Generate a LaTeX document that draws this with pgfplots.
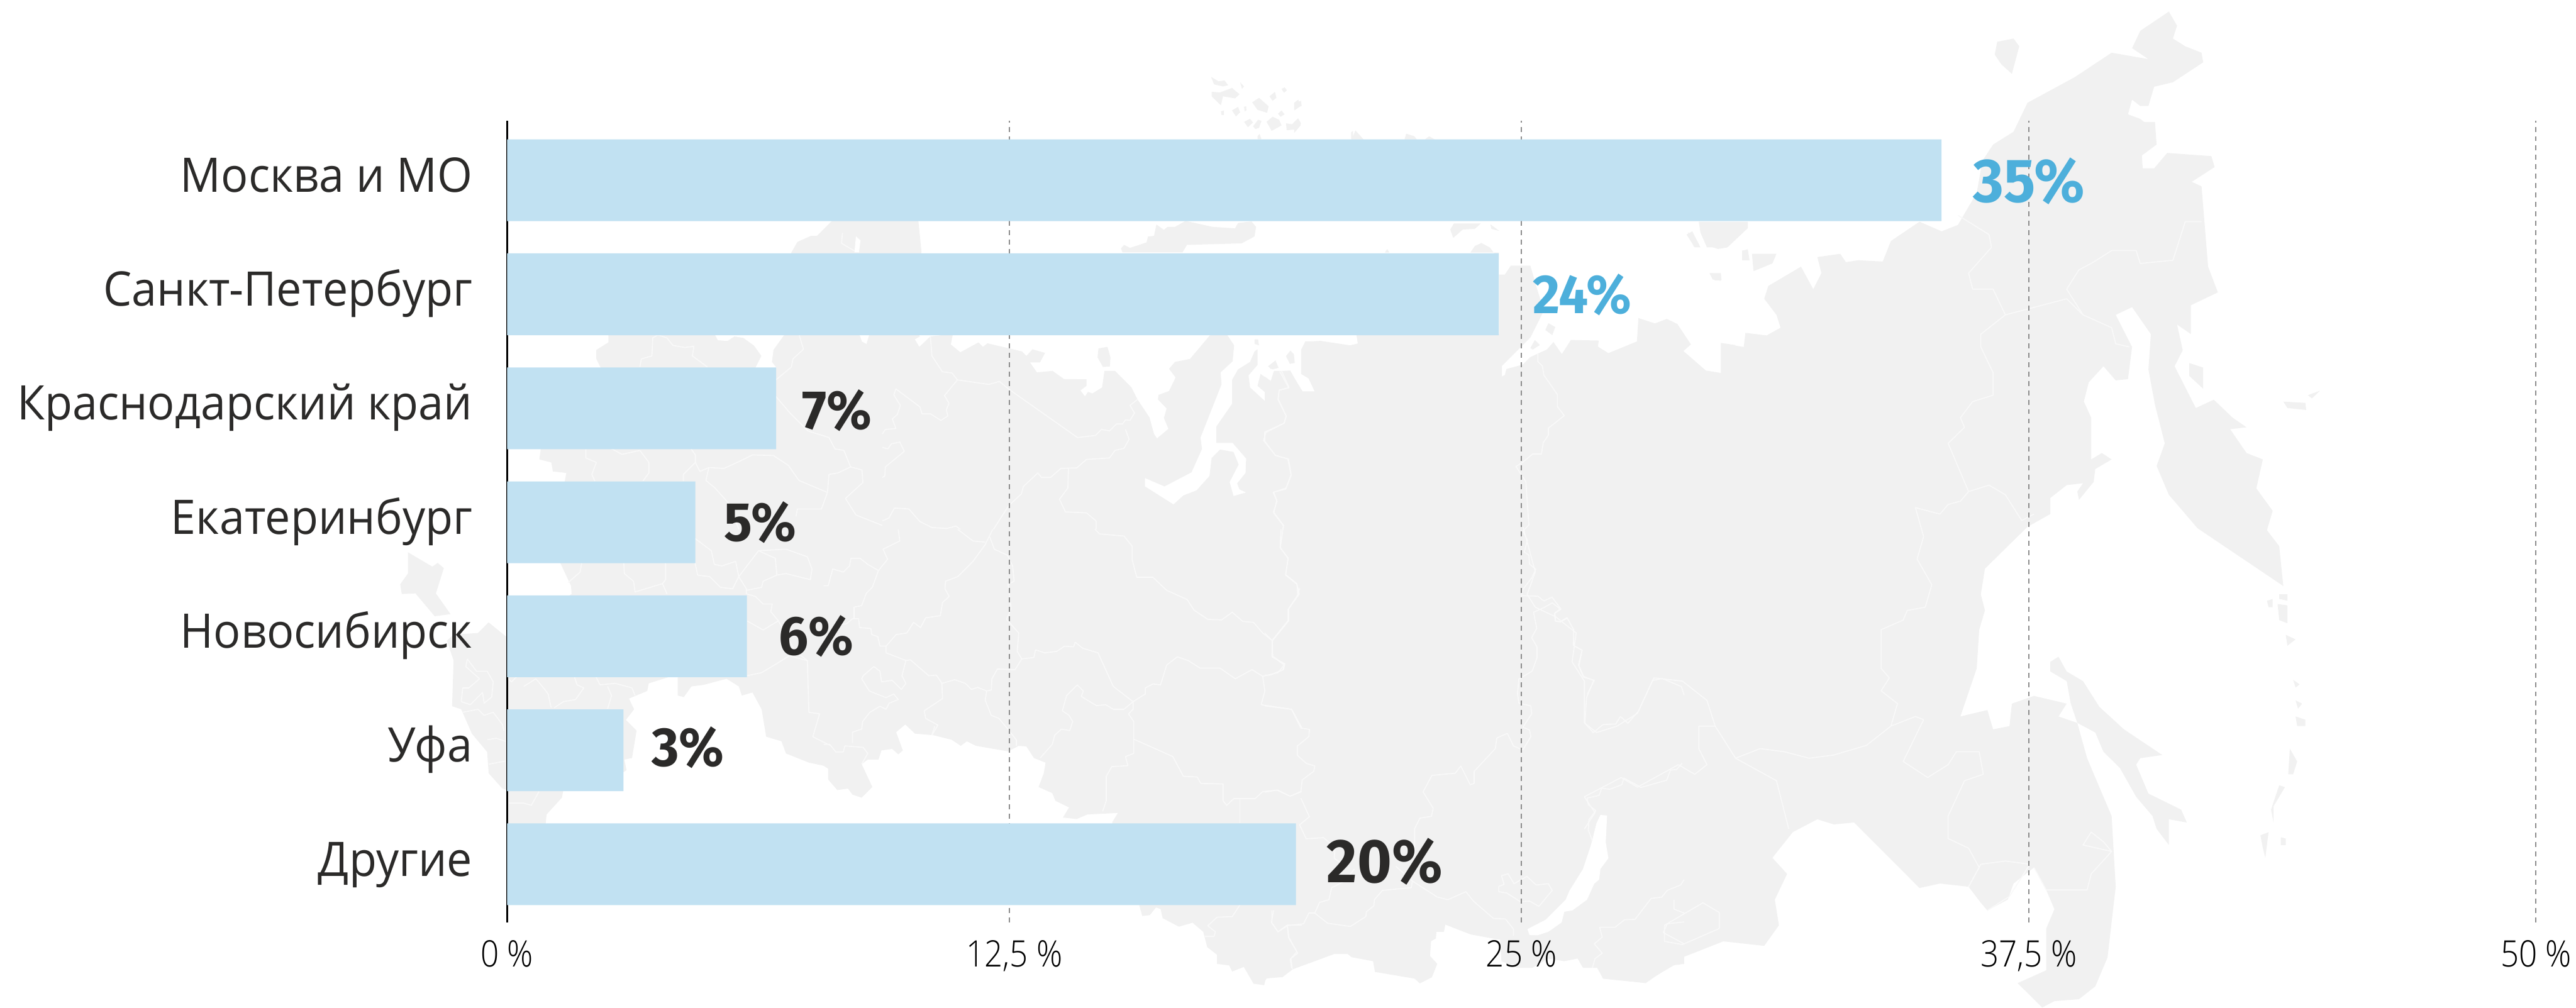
\documentclass[border=0pt]{standalone}
\usepackage{pgfplots}
\pgfplotsset{compat=1.18}
\usepackage{fontspec}
\setmainfont{Open Sans}
\newfontfamily\labf[FakeStretch=0.948]{Open Sans}
\newfontfamily\tickf[FakeStretch=0.88]{Open Sans Light}
\newfontfamily\valfam[FakeStretch=0.955]{Fira Sans}
\newcommand{\valf}{\valfam\bfseries}
\definecolor{mapc}{HTML}{F1F1F1}
\definecolor{bordc}{HTML}{F9F9F9}
\definecolor{barc}{HTML}{C1E1F2}
\definecolor{txtc}{HTML}{2B2A29}
\definecolor{bluec}{HTML}{4DAFDB}
\definecolor{gridc}{HTML}{8C8C8C}
\tikzset{Z/.style n args={4}{shift={(#1*0.2pt,{(1713-#2)*0.2pt})},x={#3*0.2pt},y={-#4*0.2pt}},
 bl/.style={draw=bordc,line width=0.35pt,line join=round}}
\newcommand{\terra}[1]{\fill[mapc] plot coordinates {#1} -- cycle;}
\newcommand{\wat}[1]{\fill[white] plot coordinates {#1} -- cycle;}
\newcommand{\bord}[1]{\draw[bl] plot coordinates {#1};}
\pgfplotstableread{
y val
6 35.35
5 24.44
4 6.63
3 4.64
2 5.91
1 2.87
0 19.44
}\shares
\begin{document}
\begin{tikzpicture}
\useasboundingbox (0,0) rectangle (875.8pt,342.6pt);
% ---------- background map: land
\begin{scope}[Z={700}{100}{.5102}{.5102}]
\terra{(1400,540) (1350,590) (1330,590) (1285,610) (1265,645) (1200,800) (655,800) (655,945) (615,970) (615,1000) (630,1030) (620,1100) (430,1299) (425,1335) (465,1345) (470,1375) (515,1380) (510,1407) (510,1568) (1568,1568) (1568,540)}
\end{scope}
\begin{scope}[Z={1500}{100}{.5102}{.5102}]
\terra{(1568,953) (1560,955) (1460,940) (1410,943) (1395,970) (1395,1050) (1420,1065) (1440,1108) (1400,1108) (1358,1040) (1305,1040) (1295,1075) (1260,1050) (1250,1090) (1285,1120) (1285,1150) (1225,1095) (1220,1055) (1250,1020) (1250,968) (1240,975) (1225,1010) (1185,1035) (1165,1070) (1165,1150) (1113,1225) (1113,1280) (1167,1280) (1212,1332) (1210,1380) (1182,1415) (1190,1435) (1212,1445) (1170,1457) (1157,1410) (1187,1352) (1170,1310) (1125,1302) (1097,1330) (1090,1390) (1047,1438) (1003,1455) (970,1485) (875,1425) (875,1397) (940,1425) (1030,1378) (1065,1300) (1060,1262) (1130,1085) (1127,1045) (1167,1008) (1172,955) (1147,917) (1095,917) (1025,1000) (975,1010) (955,1033) (977,1062) (955,1107) (920,1120) (918,1135) (947,1165) (938,1197) (953,1233) (915,1265) (905,1250) (890,1195) (850,1135) (830,1095) (775,1040) (740,1040) (732,1095) (700,1115) (685,1110) (675,1125) (660,1105) (680,1090) (680,1068) (605,1067) (567,1040) (515,1045) (492,1012) (525,1012) (542,980) (500,968) (480,990) (465,975) (350,948) (335,960) (320,945) (260,978) (228,952) (235,917) (160,925) (123,960) (108,935) (125,925) (120,917) (130,640) (120,540) (0,540) (0,1568) (1568,1568)}
\terra{(795,632) (805,620) (825,630) (880,612) (885,592) (905,590) (913,552) (938,570) (950,560) (975,560) (1010,540) (1100,560) (1175,565) (1185,547) (1230,542) (1245,560) (1240,592) (1197,615) (1015,620) (1000,645) (800,645)}
\terra{(720,965) (750,960) (760,995) (758,1025) (735,1027) (717,995)}
\terra{(1240,935) (1252,935) (1255,955) (1240,950)}
\terra{(1345,990) (1360,972) (1370,985) (1372,1010) (1358,1017)}
\terra{(1285,1025) (1310,1005) (1320,1030) (1300,1035)}
% Franz Josef Land
\terra{(1095,60) (1120,75) (1140,72) (1152,88) (1135,92) (1105,85)}
\terra{(1097,110) (1125,112) (1165,97) (1190,118) (1175,132) (1135,125) (1128,155) (1097,125)}
\terra{(1192,78) (1205,92) (1198,100)}
\terra{(1290,125) (1308,110) (1313,130) (1300,140)}
\terra{(1330,100) (1340,95) (1348,105) (1338,113)}
\terra{(1232,145) (1255,130) (1287,158) (1282,180) (1250,170)}
\terra{(1165,172) (1185,160) (1192,178) (1178,192)}
\terra{(1205,160) (1212,158) (1213,172) (1207,175)}
\terra{(1128,175) (1138,172) (1138,187) (1130,187)}
\terra{(1380,145) (1395,140) (1397,157) (1385,160)}
\terra{(1318,183) (1330,172) (1340,185) (1327,193)}
\terra{(1205,210) (1225,200) (1235,212) (1218,228)}
\terra{(1235,225) (1252,203) (1263,207) (1255,230) (1243,234)}
\terra{(1280,210) (1300,193) (1322,203) (1330,222) (1297,240)}
\terra{(1345,215) (1365,218) (1385,198) (1395,215) (1380,235) (1347,238)}
\terra{(1250,258) (1257,250) (1263,268) (1250,268)}
\terra{(1562,268) (1562,245) (1568,240) (1568,268)}
\end{scope}
\begin{scope}[Z={600}{900}{.5185}{.5185}]
\terra{(675,100) (1000,100) (1000,480) (1050,480) (970,505) (965,530) (905,555) (922,590) (895,625) (930,660) (915,750) (890,755) (897,790) (880,800) (880,856) (690,856) (685,880) (635,935) (632,964) (632,1100) (510,1100) (510,856) (490,850) (445,800) (440,730) (390,670) (355,590) (325,580) (330,430) (308,365) (330,345) (410,340) (445,305) (500,350) (510,350) (717,212) (715,185)}
\terra{(1065,480) (1065,545) (1085,550) (1110,515) (1150,510) (1225,490) (1265,515) (1275,545) (1310,535) (1340,590) (1355,680) (1405,695) (1420,735) (1495,765) (1543,775) (1568,785) (1568,0) (1000,0) (1000,480)}
\terra{(180,75) (260,122) (278,110) (298,127) (272,210) (320,278) (268,285) (205,210) (160,212) (155,180) (180,145)}
\end{scope}
\begin{scope}[Z={1400}{900}{.5185}{.5185}]
\terra{(0,775) (15,785) (15,820) (45,855) (80,850) (95,870) (125,880) (160,845) (125,770) (145,755) (180,755) (190,725) (225,720) (245,738) (260,725) (238,665) (268,640) (300,670) (360,675) (420,690) (450,710) (470,695) (500,710) (605,728) (640,710) (665,712) (690,750) (728,765) (722,800) (705,845) (750,865) (760,890) (805,912) (785,945) (830,950) (865,935) (965,930) (947,960) (947,1100) (1035,1100) (1035,1232) (1045,1268) (1070,1265) (1090,1240) (1105,1245) (1112,1275) (1165,1303) (1210,1290) (1245,1320) (1258,1370) (1290,1395) (1290,1425) (1330,1430) (1340,1450) (1378,1435) (1410,1490) (1445,1495) (1450,1473) (1505,1468) (1540,1440) (1568,1430) (1568,0) (0,0)}
\end{scope}
\begin{scope}[Z={2150}{380}{.5102}{.5102}]
\terra{(1568,405) (1520,398) (1520,498) (1470,490) (1395,425) (1420,403) (1375,335) (1340,318) (1300,333) (1245,315) (1240,393) (1145,432) (1110,410) (1113,390) (1020,388) (990,435) (962,395) (940,420) (885,445) (860,470) (805,485) (800,505) (790,510) (790,475) (855,410) (885,380) (920,310) (930,290) (905,210) (885,140) (820,140) (800,170) (780,170) (780,368) (305,368) (310,400) (275,408) (190,393) (135,393) (122,420) (122,495) (150,520) (168,562) (125,562) (85,490) (30,493) (20,525) (0,510) (0,1568) (1568,1568)}
\terra{(935,355) (945,332) (968,345) (958,372)}
\terra{(885,415) (900,388) (917,405) (893,420)}
\terra{(72,445) (85,425) (97,435) (100,465) (85,467)}
\terra{(12,475) (35,458) (45,480) (20,485)}
\terra{(630,0) (618,20) (628,48) (660,20) (700,18) (720,0)}
\terra{(752,3) (782,25) (755,18)}
\terra{(685,97) (700,75) (722,65) (750,80) (780,120) (780,97)}
\terra{(400,97) (408,85) (415,97)}
\terra{(1410,30) (1430,40) (1447,70) (1430,78)}
\terra{(1450,0) (1460,40) (1480,75) (1510,85) (1540,80) (1540,50) (1568,45) (1568,0)}
\terra{(1485,165) (1520,170) (1522,188) (1500,190)}
\end{scope}
\begin{scope}[Z={2150}{1000}{.4547}{.4547}]
\terra{(0,1470) (10,1455) (65,1455) (105,1425) (260,1368) (310,1368) (325,1380) (405,1395) (412,1435) (560,1460) (580,1478) (625,1455) (645,1405) (618,1375) (622,1320) (640,1310) (642,1285) (670,1285) (675,1258) (770,1295) (880,1315) (885,1395) (945,1420) (1000,1420) (1060,1385) (1120,1395) (1170,1385) (1190,1420) (1245,1420) (1265,1460) (1420,1475) (1530,1410) (1568,1405) (1568,0) (0,0)}
\end{scope}
\begin{scope}[Z={2200}{0}{1.3897}{1.0925}]
\terra{(522,534) (550,540) (552,518) (578,522) (595,510) (590,490) (575,465) (580,445) (620,415) (635,450) (645,425) (640,400) (668,395) (675,408) (690,405) (720,407) (730,375) (765,345) (792,360) (812,350) (835,300) (842,250) (855,225) (880,205) (897,160) (955,120) (1000,82) (1045,92) (1025,75) (1035,48) (1070,18) (1080,40) (1075,60) (1090,72) (1110,82) (1112,97) (1075,128) (1052,135) (1045,165) (1035,165) (1025,155) (1020,178) (1035,185) (1040,190) (1053,190) (1055,225) (1037,242) (1038,262) (1052,262) (1068,238) (1122,243) (1126,260) (1098,283) (1110,290) (1118,415) (1130,455) (1097,475) (1097,520) (1080,505) (1087,545) (1077,570) (1103,635) (1125,622) (1148,650) (1165,665) (1145,668) (1165,705) (1185,715) (1177,760) (1197,795) (1190,825) (1205,850) (1210,912) (1105,822) (1070,770) (1055,725) (1065,690) (1053,630) (1045,575) (1048,520) (1025,478) (1005,490) (1025,540) (1020,590) (1005,592) (990,570) (972,595) (966,625) (975,650) (975,715) (988,705) (1000,715) (980,730) (978,750) (960,778) (958,765) (965,752) (945,755) (925,775) (925,800) (897,820) (885,835) (845,885) (840,925) (845,950) (838,980) (835,1040) (815,1115) (848,1105) (855,1135) (875,1130) (878,1095) (905,1083) (945,1095) (935,1115) (958,1125) (970,1180) (1000,1270) (1005,1380) (995,1490) (980,1535) (960,1555) (930,1558) (915,1568) (885,1530) (920,1510) (920,1445) (930,1415) (920,1385) (905,1350) (880,1375) (873,1400) (848,1417) (840,1405) (825,1380) (790,1375) (765,1382) (685,1280) (660,1283) (640,1275) (610,1295) (585,1335) (603,1360) (588,1400) (593,1440) (575,1472) (525,1465) (475,1490) (430,1530) (378,1523) (371,1507) (371,1000) (522,700)}
% Sakhalin, Wrangel, islands
\terra{(925,1030) (935,1022) (945,1045) (965,1060) (985,1100) (1015,1135) (1062,1175) (1035,1180) (1030,1190) (1045,1235) (1085,1260) (1092,1280) (1070,1275) (1070,1315) (1055,1290) (1050,1270) (1030,1240) (1010,1195) (990,1170) (980,1140) (958,1125) (950,1095) (945,1060) (925,1045)}
\terra{(857,85) (860,65) (880,60) (887,72) (878,115) (865,100)}
\terra{(495,345) (555,345) (555,355) (530,385) (505,385) (497,362)}
\terra{(480,365) (487,360) (497,385) (490,385)}
\terra{(548,390) (555,388) (557,405) (548,405)}
\terra{(560,395) (590,395) (585,410) (562,422)}
\terra{(508,425) (522,425) (522,437) (512,435)}
\terra{(70,217) (75,203) (85,217)}
\terra{(135,217) (137,208) (147,212) (150,217)}
\terra{(160,217) (165,212) (172,217)}
\terra{(0,160) (5,155) (8,165) (0,172)}
\terra{(0,190) (5,185) (8,195) (0,207)}
\terra{(1095,565) (1112,572) (1112,605) (1095,585)}
\terra{(1210,625) (1237,627) (1238,638) (1215,635)}
\terra{(1240,615) (1255,608) (1245,620)}
\terra{(1190,935) (1197,932) (1197,945) (1192,945)}
\terra{(1205,925) (1215,925) (1215,935) (1205,932)}
\terra{(1203,940) (1215,942) (1215,970) (1205,965)}
\terra{(1213,988) (1225,995) (1215,1005)}
\terra{(1222,1058) (1230,1065) (1225,1070)}
\terra{(1225,1090) (1233,1095) (1228,1103)}
\terra{(1225,1115) (1237,1120) (1237,1130) (1227,1130)}
\terra{(1218,1165) (1227,1185) (1222,1205) (1216,1205)}
\terra{(1205,1222) (1212,1225) (1198,1255) (1198,1280) (1195,1260)}
\terra{(1182,1300) (1192,1295) (1188,1335) (1185,1320)}
\terra{(1207,1303) (1213,1305) (1213,1315) (1207,1315)}
\end{scope}
% ---------- background map: inland water
\begin{scope}[Z={700}{100}{.5102}{.5102}]
\wat{(1000,900) (1020,938) (1052,940) (1075,925) (1105,930) (1140,955) (1165,990) (1145,1030) (1215,1030) (1200,1010) (1205,970) (1255,900)}
\wat{(1475,645) (1480,592) (1495,605) (1490,645)}
\wat{(1485,900) (1500,942) (1515,950) (1530,900)}
\end{scope}
\begin{scope}[Z={2150}{1000}{.4547}{.4547}]
\wat{(1255,848) (1280,850) (1275,950) (1285,1010) (1255,1050) (1250,1090) (1232,1105) (1205,1165) (1150,1205) (1120,1210) (1110,1250) (1060,1285) (1020,1298) (990,1297) (982,1275) (1050,1240) (1100,1190) (1125,1165) (1140,1130) (1190,1050) (1220,960) (1240,880)}
\end{scope}
% ---------- background map: inner borders
\begin{scope}[Z={700}{100}{.5102}{.5102}]
\bord{(760,1027) (765,1000) (800,990) (803,930) (820,920) (850,930) (870,955) (910,962) (940,958) (935,990) (985,1027)}
\bord{(1290,917) (1305,968) (1270,1000) (1265,1027) (1213,1070)}
\bord{(1213,1125) (1260,1180) (1320,1240) (1390,1262) (1410,1300) (1440,1305) (1462,1360) (1500,1370) (1503,1412) (1445,1465) (1480,1520) (1568,1555)}
\bord{(1462,1360) (1420,1380) (1390,1385) (1385,1445) (1365,1500) (1285,1500) (1280,1525)}
\bord{(930,1299) (945,1320) (945,1345) (905,1385) (905,1407)}
\bord{(945,1345) (960,1375) (990,1362) (1040,1365) (1095,1340) (1135,1320) (1205,1322) (1255,1355) (1290,1405) (1385,1445)}
\bord{(990,1362) (980,1405) (1010,1430) (1055,1480) (1090,1568)}
\bord{(580,1299) (580,1330) (615,1345) (600,1385) (610,1407)}
\bord{(665,1299) (700,1318) (760,1305) (790,1345) (790,1380) (770,1407)}
\bord{(1435,580) (1432,615) (1475,640)}
\end{scope}
\begin{scope}[Z={1500}{100}{.5102}{.5102}]
\bord{(160,925) (165,990) (200,1043) (232,1047) (250,1070) (355,1085) (390,1075) (420,1100) (650,1262) (710,1255) (730,1235) (757,1240) (780,1217) (800,1217) (810,1203) (825,1205) (840,1180) (825,1155) (850,1135)}
\bord{(250,1070) (207,1122) (222,1148) (213,1170) (218,1190) (195,1205) (160,1183) (132,1183) (125,1160) (45,1100) (38,1120) (60,1155) (50,1185) (33,1200) (45,1232) (10,1235) (0,1250)}
\bord{(810,1235) (822,1268) (805,1298) (775,1305) (757,1330) (680,1335) (648,1363) (595,1365) (560,1395) (530,1395) (518,1380) (470,1425) (463,1450) (420,1490) (370,1568)}
\bord{(620,1365) (618,1430) (590,1468) (610,1510) (680,1513) (712,1540) (712,1568)}
\bord{(0,1295) (18,1300) (30,1283) (58,1277) (73,1308) (10,1360) (8,1390) (0,1395)}
\bord{(0,1540) (22,1530) (40,1497) (88,1500) (125,1542) (165,1562) (215,1565) (245,1557) (260,1568)}
\bord{(1330,1040) (1355,1095) (1322,1105) (1318,1135) (1345,1190) (1338,1215) (1278,1245) (1270,1272) (1310,1322) (1353,1333) (1362,1385) (1345,1430) (1302,1445) (1315,1475) (1303,1510) (1337,1555) (1335,1568)}
\end{scope}
\begin{scope}[Z={2150}{380}{.5102}{.5102}]
\bord{(910,435) (910,460) (925,475) (930,505) (975,570) (975,610) (998,640) (945,682) (945,705) (928,730) (922,768) (893,768) (860,795) (837,810) (870,860) (880,1005) (860,1025) (875,1055) (865,1095) (880,1105) (882,1135) (903,1152) (890,1180) (860,1220) (855,1240) (910,1242) (930,1258) (957,1245) (987,1285) (965,1300) (968,1325) (985,1328) (1008,1315) (1030,1355) (1028,1405) (1057,1422) (1045,1472) (1062,1512) (1098,1522) (1075,1568)}
\bord{(50,493) (80,548) (48,555) (45,585) (72,642) (65,665) (0,695) (0,725) (35,772) (77,785) (88,840) (70,885) (30,895) (40,922) (30,965) (62,1007) (52,1080) (78,1115) (70,1170) (107,1200) (115,1235) (78,1285) (78,1325) (25,1390) (25,1445) (67,1467) (60,1488) (15,1505) (0,1505)}
\bord{(25,1390) (0,1365)}
\end{scope}
\begin{scope}[Z={600}{900}{.5185}{.5185}]
\bord{(750,110) (745,140) (705,175)}
\bord{(888,110) (890,145) (920,170) (925,205) (1015,178) (1030,212)}
\bord{(1025,110) (1025,165) (1015,178)}
\bord{(1122,110) (1130,150) (1170,155) (1205,190) (1245,195) (1265,155) (1290,195) (1290,212)}
\bord{(1265,155) (1330,70) (1385,95) (1390,150) (1345,170) (1340,190) (1290,200)}
\bord{(1122,30) (1175,70) (1185,115) (1210,120) (1255,105) (1265,155)}
\bord{(1330,70) (1420,65) (1490,90) (1505,130) (1500,165) (1420,145) (1390,150)}
\bord{(1292,212) (1320,220) (1345,245) (1375,245) (1370,270) (1395,300) (1345,330) (1292,300)}
\bord{(1395,300) (1450,400) (1490,430) (1495,600) (1530,605) (1508,680) (1568,710)}
\bord{(1490,430) (1430,415) (1390,440) (1340,470) (1292,480)}
\bord{(540,480) (520,500) (510,490)}
\bord{(560,515) (600,490) (625,520) (640,540) (650,585)}
\bord{(725,480) (735,510) (757,520) (730,558) (690,565) (660,585)}
\bord{(795,480) (810,510) (860,505) (915,520) (925,545)}
\bord{(835,515) (848,545) (835,588)}
\bord{(375,425) (405,465) (440,465) (460,500) (455,550) (430,570) (425,535) (385,575) (355,565) (360,520) (380,520) (415,490) (370,450) (375,425)}
\bord{(360,600) (410,590) (430,610) (460,600) (490,640) (495,660)}
\bord{(440,690) (470,685) (500,695)}
\bord{(445,770) (500,760)}
\bord{(510,898) (560,898) (585,905) (610,860)}
\end{scope}
\begin{scope}[Z={1400}{900}{.5185}{.5185}]
\bord{(0,705) (20,705) (40,730) (65,730) (70,710) (130,715) (145,735) (125,770)}
\bord{(95,700) (95,665) (125,655) (128,630) (152,600) (185,580) (205,590) (215,570) (245,558) (230,540) (205,552) (150,530) (125,490) (130,480) (165,450) (185,465) (190,500) (225,495) (255,525) (270,505) (257,480) (270,430) (285,428) (345,480) (370,478) (388,505) (390,555) (330,595) (335,620) (375,642) (355,675)}
\bord{(388,505) (430,493) (465,505) (485,525) (505,518) (535,530) (530,560) (550,610) (575,620) (600,650) (632,690) (632,710)}
\bord{(270,430) (205,405) (205,383) (238,345) (273,340) (295,305) (318,322) (335,290) (383,283) (390,240) (412,220) (398,195) (400,170) (440,155) (490,105) (530,50) (555,0)}
\bord{(205,383) (185,383) (178,352) (158,345) (155,325) (118,322) (115,293) (95,293) (75,310) (55,312)}
\bord{(180,135) (210,98) (195,65) (250,38) (245,0)}
\bord{(180,135) (145,115) (120,95) (90,95) (85,120) (65,140) (30,130) (15,185) (0,185)}
\bord{(180,135) (160,190) (140,210) (125,250) (100,255) (100,293)}
\bord{(535,530) (550,527) (552,490) (570,458) (628,460) (650,425) (690,420) (695,395) (725,405) (765,400) (790,383) (820,385) (825,370) (850,390) (900,405) (950,515) (1015,565) (1055,540) (1055,520) (1080,507) (1105,510) (1125,445) (1160,418) (1195,430) (1235,455) (1300,455) (1350,490) (1405,460) (1440,482) (1490,470) (1510,445) (1470,415) (1472,365) (1525,300) (1525,260) (1555,215) (1552,180) (1515,150) (1523,95) (1497,60) (1500,0)}
\bord{(1472,365) (1440,340) (1410,305) (1375,302) (1340,272) (1305,297) (1260,295) (1215,265) (1192,230) (1125,200) (1080,157) (1027,157) (1012,100) (1012,55) (985,22) (905,15) (890,0)}
\bord{(1440,482) (1447,530) (1435,575) (1535,590) (1568,650)}
\bord{(650,425) (635,400) (640,340) (600,295) (615,260) (605,180) (625,170) (620,120) (603,85) (560,65) (545,25)}
\bord{(530,42) (490,38) (440,0)}
\bord{(1015,565) (1015,590) (1000,605) (1017,630) (1017,735) (990,745) (998,775) (945,778) (927,810) (927,890) (915,925)}
\bord{(1017,688) (1145,745) (1180,810) (1225,812) (1237,833) (1310,835) (1310,890) (1322,905) (1345,883) (1415,883) (1440,860) (1490,855) (1530,875) (1568,860)}
\bord{(1365,883) (1365,964)}
\bord{(710,750) (750,705) (758,675) (780,655) (807,660) (817,630) (805,610) (783,595) (797,545) (832,510) (852,530) (845,548) (895,578) (925,575) (950,590) (985,590) (1015,565)}
\bord{(355,675) (365,645)}
\bord{(1365,1232) (1340,1270) (1290,1272) (1260,1300) (1285,1320) (1280,1335) (1250,1335)}
\bord{(1470,1250) (1470,1290) (1490,1320) (1520,1298) (1568,1298)}
\bord{(1520,1298) (1525,1340) (1552,1385) (1530,1410) (1535,1440)}
\end{scope}
\begin{scope}[Z={2150}{1000}{.4547}{.4547}]
\bord{(130,0) (125,25) (88,80) (88,120) (28,195) (30,255) (75,285) (70,305) (20,325) (0,325)}
\bord{(0,440) (100,453) (135,523) (167,528) (165,555) (122,590) (122,625) (155,655) (187,665) (183,685) (140,717) (135,760) (95,778) (45,755) (0,763)}
\bord{(135,785) (167,855) (130,885) (155,937) (220,933) (262,970) (260,1010) (300,1040)}
\bord{(490,1040) (552,1095) (645,1155) (685,1165) (752,1135) (780,1170) (855,1235) (900,1237) (930,1275) (930,1300)}
\bord{(552,1095) (548,1120) (440,1130) (410,1165) (408,1188) (380,1210) (378,1228) (320,1265) (235,1253) (187,1215) (165,1215) (145,1255) (85,1262) (50,1285) (25,1250) (33,1205)}
\bord{(85,1262) (90,1305) (123,1365) (98,1385) (103,1425)}
\bord{(187,1215) (205,1175) (240,1165) (250,1120) (300,1095) (335,1050)}
\bord{(560,1000) (560,900) (580,860) (623,853) (630,823) (592,762) (625,700) (712,692) (733,665) (768,735) (783,730) (783,685) (862,600) (868,560) (907,543) (930,590) (965,605) (995,555) (990,530) (965,520) (998,470) (995,440) (950,430) (945,395) (950,340) (1000,310) (1018,260) (1018,220) (998,185) (1017,150) (1005,90) (1045,72) (1075,55) (1105,78) (1085,92) (1087,122) (1105,125) (1130,110) (1155,155) (1155,215) (1187,232) (1175,290) (1192,330) (1230,345) (1203,410) (1197,505) (1228,540) (1265,510) (1312,508) (1330,480) (1358,505) (1397,460) (1450,345) (1487,338) (1558,368) (1568,400)}
\bord{(1205,785) (1250,775) (1260,748) (1290,752) (1335,735) (1343,710) (1407,745) (1503,718) (1517,680) (1540,678) (1560,655)}
\bord{(1205,785) (1210,810) (1238,832) (1212,865) (1210,905) (1225,945)}
\bord{(885,1075) (910,1068) (932,1105) (980,1078) (1015,1110) (1060,1105) (1075,1130) (1025,1190) (990,1170) (955,1172) (905,1140) (875,1135) (875,1115) (895,1108) (885,1075)}
\bord{(1225,1420) (1235,1385) (1262,1365) (1232,1330) (1262,1305) (1252,1268) (1310,1268) (1345,1240) (1385,1238) (1445,1160) (1485,1155) (1505,1130) (1555,1110) (1568,1090)}
\bord{(1568,1215) (1530,1200) (1530,1165)}
\bord{(1568,1330) (1490,1288) (1505,1255) (1568,1248)}
\end{scope}
\begin{scope}[Z={2200}{0}{1.3897}{1.0925}]
\bord{(825,765) (800,690) (820,665) (815,650) (830,625) (855,615) (855,580) (840,540) (840,520) (870,490) (885,485) (945,465) (965,490) (1000,510) (1005,535) (1022,540)}
\bord{(870,490) (855,450) (830,450) (825,425) (853,385) (850,365) (812,335)}
\bord{(1110,345) (1090,345) (1075,405) (1035,410) (1030,390) (1000,390) (975,410) (960,420) (945,450) (965,490)}
\bord{(825,765) (815,780) (800,785) (790,800) (760,790) (770,835) (762,870) (780,910) (772,945) (750,950) (745,965) (718,980) (718,1040) (728,1055) (718,1075) (738,1095) (730,1130) (760,1115) (770,1120) (745,1185) (775,1210) (800,1190) (810,1170) (838,1170) (843,1205) (820,1215) (800,1270) (800,1305) (825,1320) (838,1350) (825,1380)}
\bord{(730,1130) (715,1145) (700,1160) (660,1175) (630,1180) (600,1170) (570,1165) (540,1180) (515,1130) (495,1130) (495,1165) (505,1190) (490,1205) (470,1190) (420,1225) (400,1210) (355,1240) (368,1265) (355,1290)}
\bord{(825,765) (850,755) (870,770) (890,810) (905,800)}
\bord{(540,1180) (590,1215) (605,1290)}
\bord{(825,1380) (840,1345) (870,1340) (900,1345) (875,1395) (848,1417)}
\bord{(905,1350) (920,1385) (970,1385) (975,1360) (1000,1325) (965,1315) (975,1295) (990,1310) (1000,1325)}
\bord{(515,1130) (505,1090) (475,1060) (440,1055) (420,1110) (395,1130) (370,1140) (355,1125) (355,1060) (340,1030) (345,985) (320,960) (295,945) (285,925) (295,890) (280,820)}
\bord{(453,1440) (500,1405) (520,1420) (520,1445) (475,1470) (453,1465) (453,1440)}
\end{scope}
% ---------- chart
\begin{axis}[
  at={(172.4pt,29pt)},anchor=south west,scale only axis,
  width=689.8pt,height=272.6pt,
  xmin=0,xmax=50,ymin=-0.509,ymax=6.524,
  axis lines=left,
  x axis line style={draw=none,-},
  y axis line style={draw=black,line width=0.6pt,-},
  major tick length=0pt,
  xtick={0,12.5,25,37.5,50},
  xticklabels={{0 \%},{12,5 \%},{25 \%},{37,5 \%},{50 \%}},
  extra x ticks={12.38,25,37.5,50},
  extra x tick labels={},
  extra x tick style={xmajorgrids=true,
    grid style={draw=gridc,line width=0.45pt,dash pattern=on 1.7pt off 1.5pt}},
  ytick={0,1,2,3,4,5,6},
  yticklabels={Другие,Уфа,Новосибирск,Екатеринбург,Краснодарский край,Санкт-Петербург,Москва и МО},
  xticklabel style={font=\tickf\fontsize{12.4}{14}\selectfont,text=black,anchor=base,inner sep=0pt,yshift=-15.2pt},
  yticklabel style={font=\labf\fontsize{16.2}{18}\selectfont,text=txtc,anchor=base east,inner sep=0pt,xshift=-11.6pt,yshift=-4pt},
  xmajorgrids=false,ymajorgrids=false,
  clip=false,
]
\addplot[xbar,bar shift=0pt,bar width=27.8pt,draw=none,fill=barc] table[x=val,y=y] {\shares};
\node[anchor=base west,inner sep=0pt,text=bluec,font=\valf\fontsize{21}{24}\selectfont] at (axis cs:36.12,5.806) {35\%};
\node[anchor=base west,inner sep=0pt,text=bluec,font=\valf\fontsize{18.7}{22}\selectfont] at (axis cs:25.27,4.830) {24\%};
\node[anchor=base west,inner sep=0pt,text=txtc,font=\valf\fontsize{18.7}{22}\selectfont] at (axis cs:7.25,3.814) {7\%};
\node[anchor=base west,inner sep=0pt,text=txtc,font=\valf\fontsize{18.7}{22}\selectfont] at (axis cs:5.33,2.835) {5\%};
\node[anchor=base west,inner sep=0pt,text=txtc,font=\valf\fontsize{18.7}{22}\selectfont] at (axis cs:6.68,1.834) {6\%};
\node[anchor=base west,inner sep=0pt,text=txtc,font=\valf\fontsize{18.7}{22}\selectfont] at (axis cs:3.55,0.858) {3\%};
\node[anchor=base west,inner sep=0pt,text=txtc,font=\valf\fontsize{21}{24}\selectfont] at (axis cs:20.19,-0.160) {20\%};
\end{axis}
\end{tikzpicture}
\end{document}
